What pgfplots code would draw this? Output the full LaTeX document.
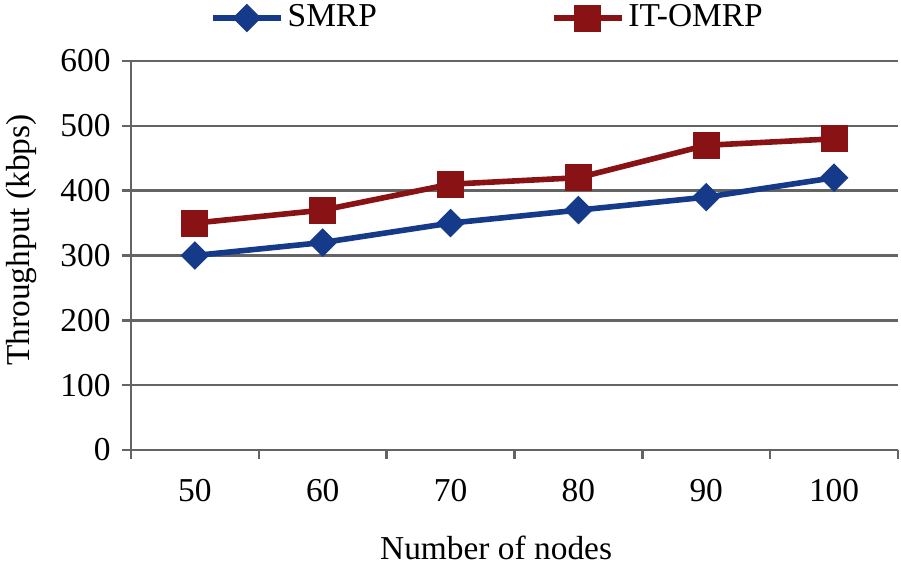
\documentclass[border=0pt]{standalone}
\usepackage{fontspec}
\setmainfont{Liberation Serif}
\usepackage{pgfplots}
\pgfplotsset{compat=1.18}
\definecolor{smrp}{RGB}{22,58,138}
\definecolor{itomrp}{RGB}{137,18,20}
\definecolor{axgray}{RGB}{100,100,100}
\begin{document}
\fontsize{16.7}{20}\selectfont
\begin{tikzpicture}
\path[use as bounding box] (-65.5pt,-58.5pt) rectangle (385pt,225pt);
\begin{axis}[
    scale only axis,
    width=383.5pt, height=194.5pt,
    xmin=-0.5, xmax=5.5,
    ymin=0, ymax=600,
    ytick={0,100,...,600},
    xtick={0,...,5},
    xticklabels={50,60,70,80,90,100},
    minor xtick={-0.5,0.5,...,5.5},
    major x tick style={draw=none},
    axis lines*=left,
    axis line style={axgray, line width=1.2pt},
    tick style={axgray, line width=1.2pt},
    tick align=outside,
    major tick length=4.5pt,
    minor tick length=4.5pt,
    ymajorgrids,
    grid style={axgray, line width=1.2pt},
    /pgf/number format/assume math mode=true,
    ticklabel style={font=\fontsize{16.7}{20}\selectfont},
    xticklabel style={yshift=-4.5pt},
    xlabel={Number of nodes},
    ylabel={Throughput (kbps)},
    label style={font=\fontsize{16.7}{20}\selectfont},
    xlabel style={at={(axis description cs:0.476,0)}, anchor=center, yshift=-49pt},
    ylabel style={at={(axis description cs:0,0.54)}, anchor=center, yshift=54.5pt},
    legend columns=2,
    legend style={draw=none, fill=none, at={(axis description cs:0.466,1)}, anchor=center, yshift=21.5pt,
        font=\fontsize{16.7}{20}\selectfont, /tikz/every even column/.append style={column sep=85pt}},
    legend image code/.code={\draw[#1, mark repeat=2, mark phase=2] plot coordinates {(0pt,0pt) (17pt,0pt) (34pt,0pt)};},
    clip=false,
]
\addplot[color=smrp, line width=2.8pt, mark=square*, mark size=4.8pt, mark options={rotate=45, line width=0.5pt, fill=smrp}]
    coordinates {(0,300) (1,320) (2,350) (3,370) (4,390) (5,420)};
\addlegendentry{SMRP}
\addplot[color=itomrp, line width=2.8pt, mark=square*, mark size=6.5pt, mark options={line width=0.5pt, fill=itomrp}]
    coordinates {(0,350) (1,370) (2,410) (3,420) (4,470) (5,480)};
\addlegendentry{IT-OMRP}
\end{axis}
\end{tikzpicture}
\end{document}
